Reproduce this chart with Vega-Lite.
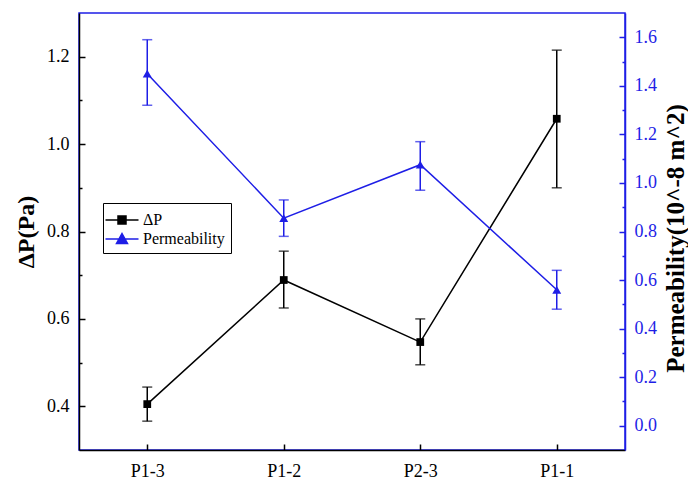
{
  "$schema": "https://vega.github.io/schema/vega-lite/v6.json",
  "width": 546,
  "height": 437,
  "autosize": "none",
  "padding": {"left": 79, "top": 13, "right": 63, "bottom": 38},
  "background": "white",
  "config": {
    "view": {"stroke": "#1e1ee6", "strokeWidth": 1.5},
    "font": "Liberation Serif",
    "axis": {"grid": false, "labelFont": "Liberation Serif", "titleFont": "Liberation Serif", "labelFontSize": 18, "titleFontSize": 24, "titleFontWeight": "bold", "titleColor": "black", "domainWidth": 1.5, "tickWidth": 1.5},
    "legend": {"labelFont": "Liberation Serif"}
  },
  "datasets": {
    "dp": [
      {"site": "P1-3", "series": "ΔP", "value": 0.405, "lo": 0.366, "hi": 0.444},
      {"site": "P1-2", "series": "ΔP", "value": 0.689, "lo": 0.625, "hi": 0.755},
      {"site": "P2-3", "series": "ΔP", "value": 0.547, "lo": 0.495, "hi": 0.6},
      {"site": "P1-1", "series": "ΔP", "value": 1.058, "lo": 0.9, "hi": 1.215}
    ],
    "perm": [
      {"site": "P1-3", "series": "Permeability", "value": 1.45, "lo": 1.32, "hi": 1.59},
      {"site": "P1-2", "series": "Permeability", "value": 0.855, "lo": 0.78, "hi": 0.93},
      {"site": "P2-3", "series": "Permeability", "value": 1.075, "lo": 0.97, "hi": 1.17},
      {"site": "P1-1", "series": "Permeability", "value": 0.56, "lo": 0.48, "hi": 0.64}
    ]
  },
  "layer": [
    {
      "data": {"name": "dp"},
      "layer": [
        {
          "mark": {"type": "line", "strokeWidth": 1.5},
          "encoding": {
            "x": {"field": "site", "type": "nominal", "sort": ["P1-3", "P1-2", "P2-3", "P1-1"],
              "scale": {"type": "point", "padding": 0.5},
              "axis": {"orient": "bottom", "title": null, "labelAngle": 0, "labelPadding": 12, "ticks": false, "domainColor": "black", "labelColor": "black"}},
            "y": {"field": "value", "type": "quantitative", "scale": {"domain": [0.3, 1.3], "nice": false, "zero": false},
              "axis": {"orient": "left", "title": "ΔP(Pa)", "values": [0.4, 0.6, 0.8, 1.0, 1.2], "format": ".1f",
                "ticks": false, "labelPadding": 10,
                "titleX": -53, "titleY": 218.5, "titleAngle": 270, "titleAlign": "center", "titleBaseline": "middle",
                "domainColor": "black", "labelColor": "black"}},
            "color": {"field": "series", "type": "nominal",
              "scale": {"domain": ["ΔP", "Permeability"], "range": ["black", "#1e1ee6"]},
              "legend": {"title": null, "orient": "none", "legendX": 24, "legendY": 190,
                "strokeColor": "black", "padding": 6, "cornerRadius": 0, "fillColor": "white",
                "labelFontSize": 16, "labelColor": "black", "symbolSize": 400, "symbolStrokeWidth": 1.5,
                "labelOffset": 10, "symbolOffset": 2, "rowPadding": 0,
                "encode": {"symbols": {"update": {
                  "shape": {"signal": "datum.value == 'ΔP' ? 'M-1.65,0H1.65M-0.4,-0.4H0.4V0.4H-0.4Z' : 'M-1.65,0H1.65M0,-0.55L0.55,0.45H-0.55Z'"},
                  "size": {"value": 400},
                  "fill": {"scale": "color", "field": "value"},
                  "stroke": {"scale": "color", "field": "value"}
                }}}}}
          }
        },
        {
          "mark": {"type": "errorbar", "ticks": {"size": 10}, "color": "black", "thickness": 1.5},
          "encoding": {
            "x": {"field": "site", "type": "nominal", "sort": ["P1-3", "P1-2", "P2-3", "P1-1"],
              "axis": {"orient": "top", "offset": -437, "title": null, "labels": false, "domain": false, "ticks": true, "tickSize": 6, "tickColor": "black"}},
            "y": {"field": "lo", "type": "quantitative",
              "axis": {"orient": "right", "offset": -546, "title": null, "labels": false, "domain": false, "ticks": true,
                "values": [0.4, 0.5, 0.6, 0.7, 0.8, 0.9, 1.0, 1.1, 1.2],
                "tickSize": {"condition": {"test": "round(datum.value*10)%2==0", "value": 6}, "value": 3},
                "tickColor": "black"}},
            "y2": {"field": "hi"}
          }
        },
        {
          "mark": {"type": "point", "shape": "square", "filled": true, "size": 60, "color": "black", "opacity": 1},
          "encoding": {
            "x": {"field": "site", "type": "nominal", "sort": ["P1-3", "P1-2", "P2-3", "P1-1"], "axis": null},
            "y": {"field": "value", "type": "quantitative", "axis": null}
          }
        }
      ]
    },
    {
      "data": {"name": "perm"},
      "layer": [
        {
          "mark": {"type": "line", "strokeWidth": 1.5},
          "encoding": {
            "x": {"field": "site", "type": "nominal", "sort": ["P1-3", "P1-2", "P2-3", "P1-1"], "axis": null},
            "y": {"field": "value", "type": "quantitative", "scale": {"domain": [-0.1, 1.7], "nice": false, "zero": false},
              "axis": {"orient": "right", "title": "Permeability(10^-8 m^2)",
                "values": [0, 0.2, 0.4, 0.6, 0.8, 1.0, 1.2, 1.4, 1.6], "format": ".1f",
                "ticks": false, "labelPadding": 9, "titleFontSize": 25,
                "titleX": 50, "titleY": 225, "titleAngle": 270, "titleAlign": "center", "titleBaseline": "middle",
                "domainColor": "#1e1ee6", "labelColor": "#1e1ee6"}},
            "color": {"field": "series", "type": "nominal"}
          }
        },
        {
          "mark": {"type": "errorbar", "ticks": {"size": 10}, "color": "#1e1ee6", "thickness": 1.5},
          "encoding": {
            "x": {"field": "site", "type": "nominal", "sort": ["P1-3", "P1-2", "P2-3", "P1-1"], "axis": null},
            "y": {"field": "lo", "type": "quantitative",
              "axis": {"orient": "left", "offset": -546, "title": null, "labels": false, "domain": false, "ticks": true,
                "values": [0, 0.1, 0.2, 0.3, 0.4, 0.5, 0.6, 0.7, 0.8, 0.9, 1.0, 1.1, 1.2, 1.3, 1.4, 1.5, 1.6],
                "tickSize": {"condition": {"test": "round(datum.value*10)%2==0", "value": 6}, "value": 3},
                "tickColor": "#1e1ee6"}},
            "y2": {"field": "hi"}
          }
        },
        {
          "mark": {"type": "point", "shape": "triangle-up", "filled": true, "size": 80, "color": "#1e1ee6", "opacity": 1},
          "encoding": {
            "x": {"field": "site", "type": "nominal", "sort": ["P1-3", "P1-2", "P2-3", "P1-1"], "axis": null},
            "y": {"field": "value", "type": "quantitative", "axis": null}
          }
        }
      ]
    }
  ],
  "resolve": {"scale": {"y": "independent"}}
}
